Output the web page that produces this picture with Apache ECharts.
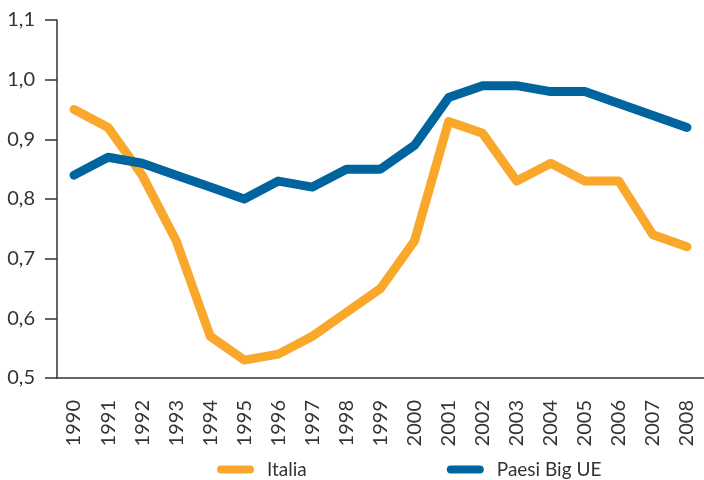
<!DOCTYPE html>
<html>
<head>
<meta charset="utf-8">
<script src="https://cdn.jsdelivr.net/npm/echarts@6/dist/echarts.min.js"></script>
<style>
  html, body { margin: 0; padding: 0; background: #fff; }
  #chart { width: 704px; height: 480px; }
</style>
</head>
<body>
<div id="chart"></div>
<script>
// anni e valori
var anni = ['1990', '1991', '1992', '1993', '1994', '1995', '1996', '1997', '1998', '1999',
            '2000', '2001', '2002', '2003', '2004', '2005', '2006', '2007', '2008'];
var italia = [0.95, 0.92, 0.84, 0.73, 0.57, 0.53, 0.54, 0.57, 0.61, 0.65,
              0.73, 0.93, 0.91, 0.83, 0.86, 0.83, 0.83, 0.74, 0.72];
var paesiBigUE = [0.84, 0.87, 0.86, 0.84, 0.82, 0.80, 0.83, 0.82, 0.85, 0.85,
                  0.89, 0.97, 0.99, 0.99, 0.98, 0.98, 0.96, 0.94, 0.92];

var font = 'Lato, "Open Sans", sans-serif';
var capsule = 'path://M4,0 L33,0 A4,4 0 0 1 33,8 L4,8 A4,4 0 0 1 4,0 Z';

var myChart = echarts.init(document.getElementById('chart'));

var option = {
    animation: false,
    grid: { left: 57, top: 20, right: -3, bottom: 102 },
    legend: {
        left: 212,
        top: 455,
        itemWidth: 37,
        itemHeight: 9,
        itemGap: 140,
        textStyle: { fontFamily: font, fontSize: 19, color: '#333', padding: [0, 0, 0, 8] },
        data: [
            { name: 'Italia', icon: capsule },
            { name: 'Paesi Big UE', icon: capsule }
        ]
    },
    xAxis: {
        type: 'category',
        data: anni,
        axisLine: { lineStyle: { color: '#333', width: 1.5 } },
        axisTick: { alignWithLabel: true, length: 12, lineStyle: { color: '#333', width: 1.5 } },
        axisLabel: { rotate: 90, margin: 22, fontFamily: font, fontSize: 20, color: '#333' }
    },
    yAxis: {
        type: 'value',
        min: 0.5,
        max: 1.1,
        interval: 0.1,
        axisLine: { show: true, lineStyle: { color: '#333', width: 1.5 } },
        axisTick: { show: true, length: 12, lineStyle: { color: '#333', width: 1.5 } },
        splitLine: { show: false },
        axisLabel: {
            margin: 22,
            fontFamily: font,
            fontSize: 20,
            color: '#333',
            formatter: function (v) { return v.toFixed(1).replace('.', ','); }
        }
    },
    series: [
        {
            name: 'Italia',
            type: 'line',
            data: italia,
            symbol: 'none',
            color: '#F9A82B',
            lineStyle: { width: 9, cap: 'round', join: 'round' }
        },
        {
            name: 'Paesi Big UE',
            type: 'line',
            data: paesiBigUE,
            symbol: 'none',
            color: '#00659E',
            lineStyle: { width: 9, cap: 'round', join: 'round' }
        }
    ]
};

myChart.setOption(option);
</script>
</body>
</html>
